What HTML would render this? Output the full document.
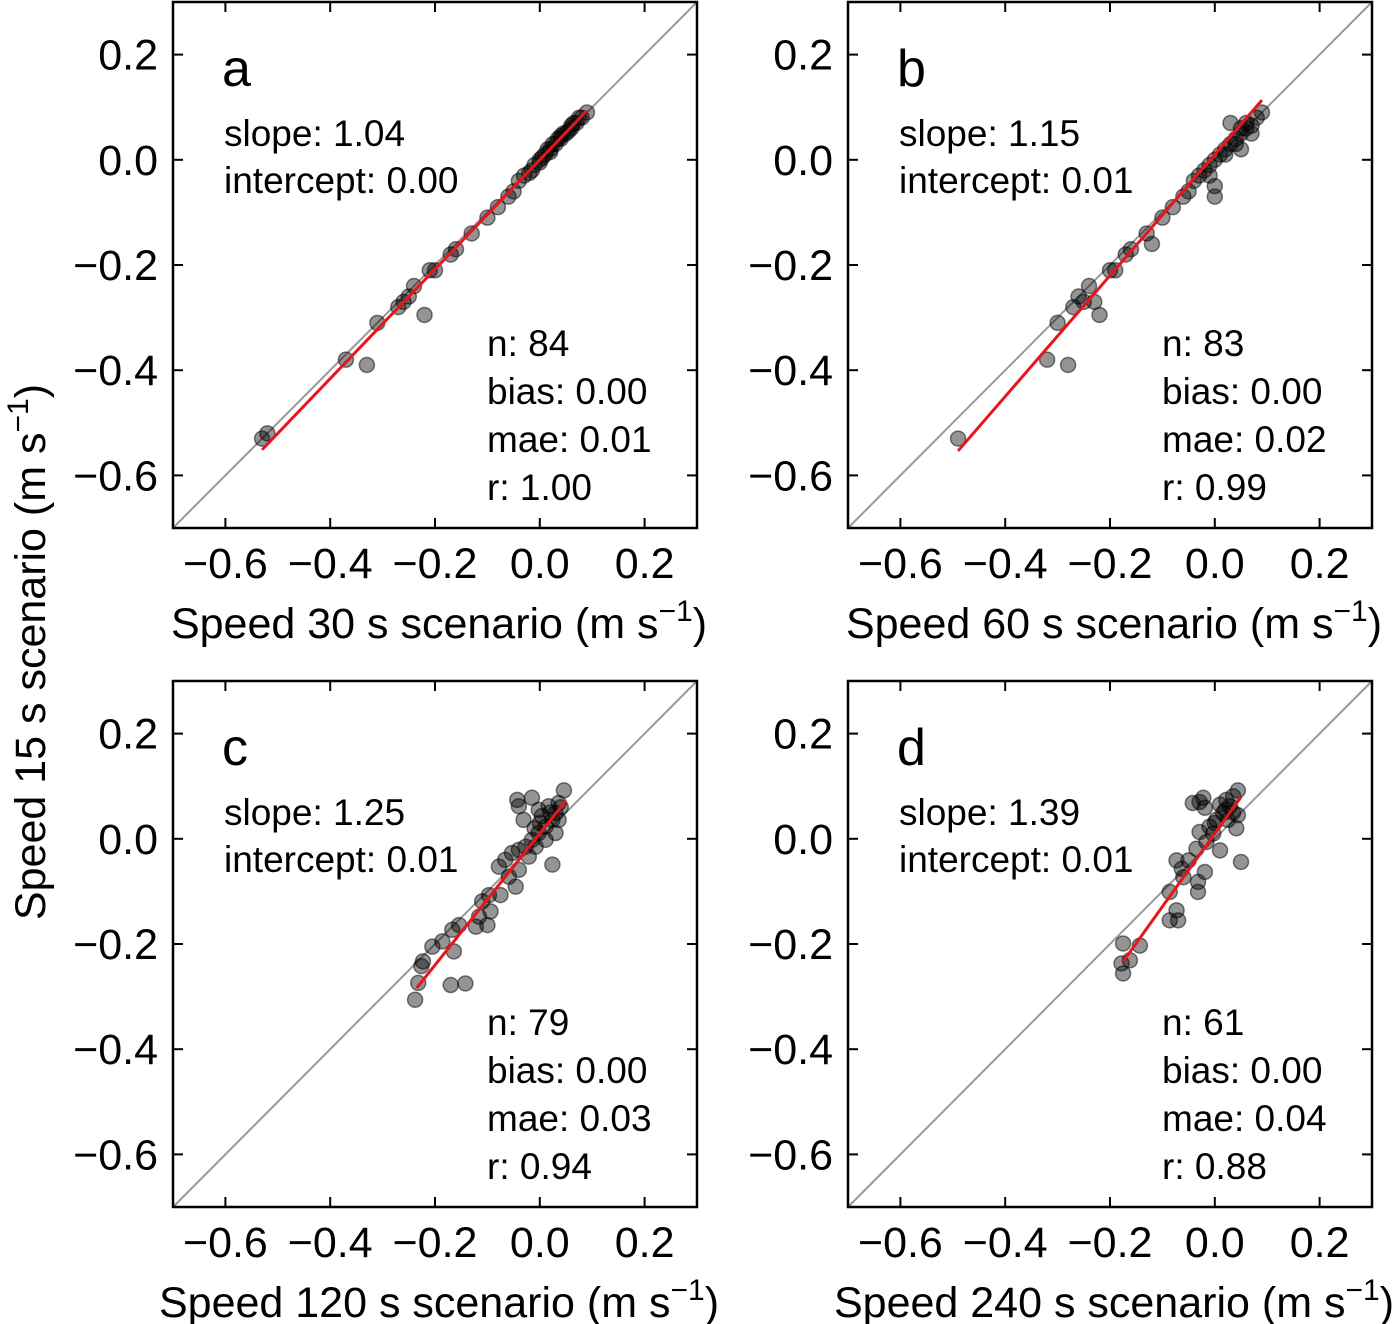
<!DOCTYPE html>
<html><head><meta charset="utf-8"><style>
html,body{margin:0;padding:0;background:#fff;}
svg{display:block;font-family:"Liberation Sans",sans-serif;}
</style></head><body>
<svg id="chart" width="1400" height="1324" viewBox="0 0 1400 1324" xmlns="http://www.w3.org/2000/svg"></svg>
<script>
const panelLetters = ["a","b","c","d"];
const xLabels = ["Speed 30 s scenario","Speed 60 s scenario","Speed 120 s scenario","Speed 240 s scenario"];
const slopes = [1.04,1.15,1.25,1.39];
const intercepts = [0.00,0.01,0.01,0.01];
const fitRanges = [[-0.53,0.09],[-0.49,0.09],[-0.235,0.05],[-0.175,0.05]];
const nVals = ["84","83","79","61"];
const biasVals = ["0.00","0.00","0.00","0.00"];
const maeVals = ["0.01","0.02","0.03","0.04"];
const rVals = ["1.00","0.99","0.94","0.88"];
const tickVals = [-0.6,-0.4,-0.2,0.0,0.2];
const tickLabels = ["\u22120.6","\u22120.4","\u22120.2","0.0","0.2"];
const pointsA = [[-0.53,-0.53],[-0.52,-0.52],[-0.37,-0.38],[-0.33,-0.39],[-0.31,-0.31],[-0.27,-0.28],[-0.26,-0.27],[-0.25,-0.26],[-0.24,-0.24],[-0.22,-0.295],[-0.21,-0.21],[-0.2,-0.21],[-0.17,-0.18],[-0.16,-0.17],[-0.13,-0.14],[-0.1,-0.11],[-0.08,-0.09],[-0.06,-0.07],[-0.05,-0.06],[-0.04,-0.04],[-0.03,-0.03],[-0.02,-0.025],[-0.01,-0.01],[0.0,0.0],[0.005,0.005],[0.01,0.01],[0.015,0.02],[0.02,0.02],[0.025,0.03],[0.03,0.03],[0.035,0.04],[0.04,0.04],[0.045,0.05],[0.05,0.05],[0.055,0.055],[0.06,0.06],[0.065,0.07],[0.07,0.07],[0.075,0.08],[0.08,0.08],[0.09,0.09],[-0.015,-0.02],[0.0,-0.005],[0.02,0.015],[0.04,0.045],[0.06,0.065]];
const pointsB = [[-0.49,-0.53],[-0.32,-0.38],[-0.3,-0.31],[-0.28,-0.39],[-0.27,-0.28],[-0.25,-0.27],[-0.26,-0.26],[-0.24,-0.24],[-0.22,-0.295],[-0.23,-0.27],[-0.2,-0.21],[-0.19,-0.21],[-0.17,-0.18],[-0.16,-0.17],[-0.13,-0.14],[-0.12,-0.16],[-0.1,-0.11],[-0.08,-0.09],[-0.06,-0.07],[-0.05,-0.06],[-0.04,-0.04],[-0.03,-0.03],[-0.02,-0.02],[-0.01,-0.01],[0.0,-0.07],[0.0,0.0],[0.01,0.01],[0.02,0.02],[0.03,0.03],[0.03,0.07],[0.04,0.04],[0.05,0.05],[0.06,0.06],[0.06,0.07],[0.07,0.065],[0.08,0.08],[0.09,0.09],[0.04,0.03],[0.05,0.02],[0.02,0.01],[0.0,-0.05],[-0.01,-0.03],[0.05,0.06],[0.07,0.05]];
const pointsC = [[-0.238,-0.306],[-0.232,-0.274],[-0.226,-0.242],[-0.223,-0.233],[-0.205,-0.205],[-0.186,-0.195],[-0.17,-0.278],[-0.142,-0.275],[-0.164,-0.214],[-0.167,-0.173],[-0.154,-0.164],[-0.122,-0.167],[-0.1,-0.164],[-0.116,-0.148],[-0.094,-0.138],[-0.11,-0.119],[-0.097,-0.107],[-0.075,-0.107],[-0.059,-0.072],[-0.046,-0.091],[-0.066,-0.04],[-0.053,-0.027],[-0.04,-0.021],[-0.027,-0.015],[-0.015,-0.002],[-0.002,0.011],[0.011,0.023],[0.024,0.036],[0.03,0.049],[0.017,0.062],[0.036,0.068],[0.046,0.092],[0.024,-0.049],[-0.043,0.074],[-0.015,0.078],[-0.031,0.036],[-0.04,0.062],[0.004,0.043],[0.03,0.011],[0.011,-0.002],[-0.021,-0.034],[-0.008,-0.015],[0.036,0.036],[-0.002,0.055],[-0.078,-0.053],[-0.04,-0.059],[0.02,0.05],[0.04,0.06],[-0.01,0.02],[0.0,0.03]];
const pointsD = [[-0.178,-0.237],[-0.175,-0.256],[-0.175,-0.199],[-0.143,-0.203],[-0.162,-0.231],[-0.073,-0.136],[-0.086,-0.155],[-0.07,-0.155],[-0.086,-0.101],[-0.032,-0.101],[-0.032,-0.082],[-0.019,-0.063],[-0.06,-0.073],[-0.063,-0.057],[-0.05,-0.041],[-0.073,-0.041],[-0.035,-0.019],[-0.029,0.013],[-0.016,-0.006],[-0.003,0.01],[0.01,-0.022],[-0.01,0.023],[0.003,0.036],[0.016,0.049],[0.029,0.062],[0.022,0.074],[0.035,0.081],[0.044,0.092],[-0.042,0.068],[-0.029,0.07],[-0.019,0.059],[-0.022,0.078],[0.041,0.02],[0.044,0.045],[0.05,-0.044],[0.01,0.065],[0.025,0.036],[0.02,0.055],[0.035,0.05],[0.0,0.03]];
const allPoints = [pointsA,pointsB,pointsC,pointsD];

const NS = "http://www.w3.org/2000/svg";
const svg = document.getElementById("chart");
function mk(tag, attrs, parent){ const e=document.createElementNS(NS,tag); for(const k in attrs) e.setAttribute(k,attrs[k]); (parent||svg).appendChild(e); return e; }

const W=524, H=526, XMIN=-0.7, XMAX=0.3, YMIN=-0.7, YMAX=0.3;
const origins=[[173,2],[848,2],[173,681],[848,681]];

for(let p=0;p<4;p++){
  const ox=origins[p][0], oy=origins[p][1];
  const sx=v=>ox+(v-XMIN)/(XMAX-XMIN)*W;
  const sy=v=>oy+(YMAX-v)/(YMAX-YMIN)*H;
  const g=mk("g",{});
  
  
  const d=mk("line",{x1:sx(XMIN),y1:sy(YMIN),x2:sx(XMAX),y2:sy(YMAX),stroke:"#999","stroke-width":2},g);
  
  
  for(const pt of allPoints[p]){
    const c=mk("circle",{cx:sx(pt[0]),cy:sy(pt[1]),r:7.5,fill:"rgba(0,0,0,0.42)",stroke:"rgba(0,0,0,0.5)","stroke-width":1.5},g);
    
    
  }
  const f=fitRanges[p];
  const fl=mk("line",{x1:sx(f[0]),y1:sy(slopes[p]*f[0]+intercepts[p]),x2:sx(f[1]),y2:sy(slopes[p]*f[1]+intercepts[p]),stroke:"#e8161b","stroke-width":3},g);
  
  
  const fr=mk("rect",{x:ox,y:oy,width:W,height:H,fill:"none",stroke:"#000","stroke-width":2.5},g);
  
  
  for(let i=0;i<tickVals.length;i++){
    const tx=sx(tickVals[i]), ty=sy(tickVals[i]);
    mk("line",{x1:tx,y1:oy+H,x2:tx,y2:oy+H-10,stroke:"#000","stroke-width":2},g);
    mk("line",{x1:tx,y1:oy,x2:tx,y2:oy+10,stroke:"#000","stroke-width":2},g);
    mk("line",{x1:ox,y1:ty,x2:ox+10,y2:ty,stroke:"#000","stroke-width":2},g);
    mk("line",{x1:ox+W,y1:ty,x2:ox+W-10,y2:ty,stroke:"#000","stroke-width":2},g);
    const xl=mk("text",{x:tx,y:oy+H+50,"font-size":43,"text-anchor":"middle"},g);
    xl.textContent=tickLabels[i];
    
    
    const yl=mk("text",{x:ox-15,y:ty+15,"font-size":43,"text-anchor":"end"},g);
    yl.textContent=tickLabels[i];
    
    
  }
  const xt=mk("text",{x:ox+W/2+4,y:oy+H+110,"font-size":43,"text-anchor":"middle"},g);
  xt.innerHTML=xLabels[p]+' (m s<tspan dy="-17" font-size="30">\u22121</tspan><tspan dy="17">)</tspan>';
  
  
  const lt=mk("text",{x:ox+49,y:oy+84,"font-size":52},g);
  lt.textContent=panelLetters[p];
  
  
  const l1=mk("text",{x:ox+51,y:oy+144,"font-size":37},g);
  l1.textContent="slope: "+slopes[p].toFixed(2);
  
  
  const l2=mk("text",{x:ox+51,y:oy+191,"font-size":37},g);
  l2.textContent="intercept: "+intercepts[p].toFixed(2);
  
  
  const stats=["n: "+nVals[p],"bias: "+biasVals[p],"mae: "+maeVals[p],"r: "+rVals[p]];
  for(let k=0;k<4;k++){
    const s=mk("text",{x:ox+314,y:oy+354+k*48,"font-size":37},g);
    s.textContent=stats[k];
    
    
  }
}
const yt=mk("text",{x:0,y:0,"font-size":43,"text-anchor":"middle",transform:"translate(45,652) rotate(-90)"});
yt.innerHTML='Speed 15 s scenario (m s<tspan dy="-17" font-size="30">\u22121</tspan><tspan dy="17">)</tspan>';


</script>
</body></html>
